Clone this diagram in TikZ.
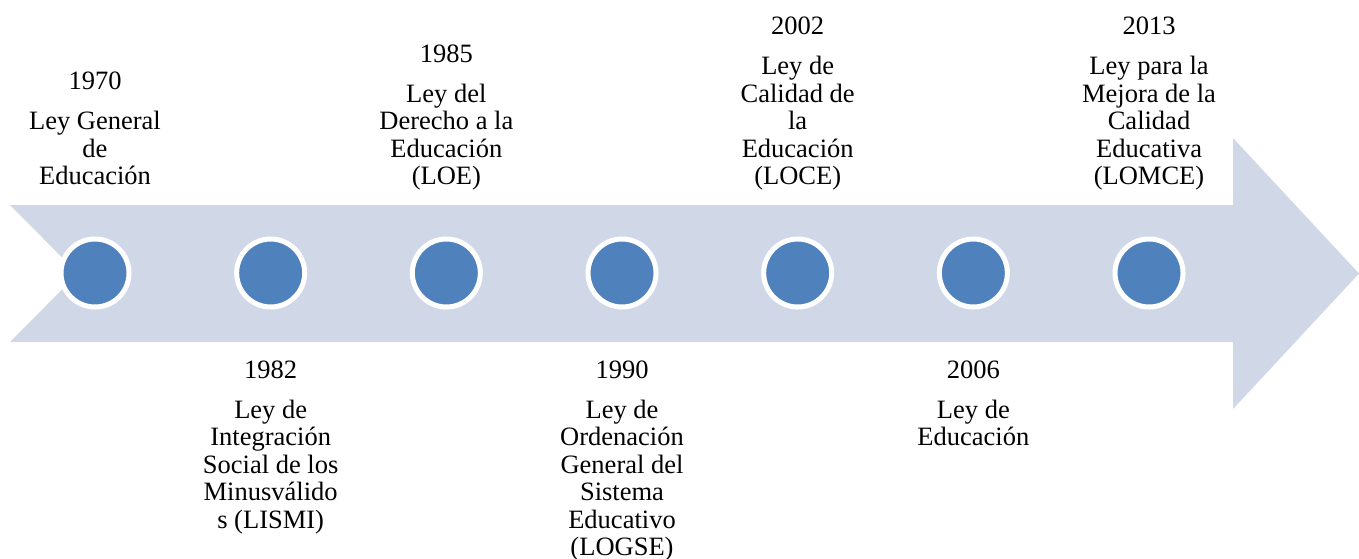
\documentclass[tikz,border=0pt]{standalone}
\usepackage{fontspec}
\setmainfont{Liberation Serif}
\definecolor{arrowfill}{HTML}{D0D8E8}
\definecolor{dotfill}{HTML}{4F81BD}
\begin{document}
\begin{tikzpicture}[x=1pt,y=-1pt,
  dot/.style={circle,fill=dotfill,draw=white,line width=5pt,minimum size=68pt,inner sep=0pt},
  lbl/.style={align=center,inner sep=0pt,font=\fontsize{26.5}{27.5}\selectfont},
  uplbl/.style={lbl,anchor=south},
  lowlbl/.style={lbl,anchor=north}]
\useasboundingbox (0,0) rectangle (1359,558);
\fill[arrowfill] (10,205) -- (1233,205) -- (1233,138) -- (1359,273.5) -- (1233,409)
  -- (1233,342) -- (10,342) -- (78,273.5) -- cycle;
\foreach \i in {1,...,7}{
  \node[dot] (c\i) at ({95+175.67*(\i-1)},273) {};
}
\path (c1.center) ++(0,-79.75) node[uplbl] (t1) {\strut 1970\\[12.5pt]\strut Ley General\\\strut de\\\strut Educación};
\path (c2.center) ++(0,85.75) node[lowlbl] (t2) {\strut 1982\\[12.5pt]\strut Ley de\\\strut Integración\\\strut Social de los\\\strut Minusválido\\\strut s (LISMI)};
\path (c3.center) ++(0,-79.75) node[uplbl] (t3) {\strut 1985\\[12.5pt]\strut Ley del\\\strut Derecho a la\\\strut Educación\\\strut (LOE)};
\path (c4.center) ++(0,85.75) node[lowlbl] (t4) {\strut 1990\\[12.5pt]\strut Ley de\\\strut Ordenación\\\strut General del\\\strut Sistema\\\strut Educativo\\\strut (LOGSE)};
\path (c5.center) ++(0,-79.75) node[uplbl] (t5) {\strut 2002\\[12.5pt]\strut Ley de\\\strut Calidad de\\\strut la\\\strut Educación\\\strut (LOCE)};
\path (c6.center) ++(0,85.75) node[lowlbl] (t6) {\strut 2006\\[12.5pt]\strut Ley de\\\strut Educación};
\path (c7.center) ++(0,-79.75) node[uplbl] (t7) {\strut 2013\\[12.5pt]\strut Ley para la\\\strut Mejora de la\\\strut Calidad\\\strut Educativa\\\strut (LOMCE)};
\end{tikzpicture}
\end{document}
